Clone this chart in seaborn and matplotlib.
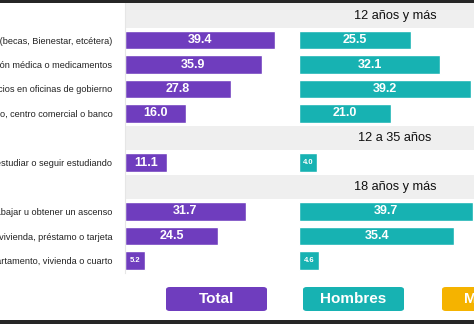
import numpy as np
import pandas as pd
import matplotlib
matplotlib.use("Agg")
import matplotlib.pyplot as plt
from matplotlib.patches import FancyBboxPatch, Rectangle
import seaborn as sns

sns.set_style("white")
plt.rcParams["font.family"] = ["Liberation Sans", "DejaVu Sans"]

# Derechos negados (porcentaje) por grupo de edad
grupos = ["12 años y más", "12 a 35 años", "18 años y más"]
categorias = [
    "Recibir apoyos de programas sociales (becas, Bienestar, etcétera)",
    "Atención médica o medicamentos",
    "Servicios en oficinas de gobierno",
    "La entrada o permanencia en algún negocio, centro comercial o banco",
    "La posibilidad de estudiar o seguir estudiando",
    "La oportunidad de trabajar u obtener un ascenso",
    "Algún crédito de vivienda, préstamo o tarjeta",
    "Rentar o comprar un departamento, vivienda o cuarto",
]
grupo_de = [0, 0, 0, 0, 1, 2, 2, 2]
total = [39.4, 35.9, 27.8, 16.0, 11.1, 31.7, 24.5, 5.2]
hombres = [25.5, 32.1, 39.2, 21.0, 4.0, 39.7, 35.4, 4.6]
leyenda = ["Total", "Hombres", "Mujeres"]

MORADO = "#6F3DBE"
TURQUESA = "#17B2B2"
NARANJA = "#F5B300"
GRIS = "#EFEFEF"

df = pd.DataFrame({"categoria": categorias, "Total": total, "Hombres": hombres})

# Row order: each age group gets a header row followed by its items
orden = []
encabezados = []
for g, nombre in enumerate(grupos):
    encabezados.append(len(orden))
    orden.append(nombre)
    orden += [c for c, gg in zip(categorias, grupo_de) if gg == g]

W, H = 474, 324
fig = plt.figure(figsize=(W / 100, H / 100), dpi=100)
fig.patch.set_facecolor("white")

top_px, bot_px = 3.25, 272.75
ax_bottom = 1 - bot_px / H
ax_height = (bot_px - top_px) / H
ax_t = fig.add_axes([125 / W, ax_bottom, 174 / W, ax_height])
ax_h = fig.add_axes([299 / W, ax_bottom, 175 / W, ax_height])

paneles = [(ax_t, "Total", MORADO, 45.7), (ax_h, "Hombres", TURQUESA, 39.86)]
for ax, col, color, xmax in paneles:
    sns.barplot(data=df, y="categoria", x=col, order=orden, color=color,
                saturation=1, width=0.74, orient="h", ax=ax, zorder=2)
    ax.set_xlim(0, xmax)
    ax.set_ylim(len(orden) - 0.5, -0.5)
    for i in encabezados:
        ax.axhspan(i - 0.5, i + 0.5, color=GRIS, lw=0, zorder=0)
    for s in ax.spines.values():
        s.set_visible(False)
    ax.set_xlabel("")
    ax.set_ylabel("")
    ax.set_xticks([])
    for cont in ax.containers:
        etiquetas = ax.bar_label(cont, fmt="%.1f", label_type="center",
                                 color="white", fontweight="bold", fontsize=9)
        for t, v in zip(etiquetas, cont.datavalues):
            if v < 6:
                t.set_fontsize(5.5)

ax_t.set_yticks(range(len(orden)))
ax_t.set_yticklabels(["" if i in encabezados else c for i, c in enumerate(orden)],
                     fontsize=6.6, color="#222222")
ax_t.tick_params(axis="y", which="major", length=0, pad=9)
ax_t.set_yticks(np.arange(len(orden) + 1) - 0.5, minor=True)
ax_t.tick_params(axis="y", which="minor", length=3, color="#E4E0CC", width=0.8)
ax_t.spines["left"].set_visible(True)
ax_t.spines["left"].set_color("#E6E6E6")
ax_t.spines["left"].set_linewidth(0.8)
ax_h.set_yticks([])

# Group titles on the header rows
for i, nombre in zip(encabezados, grupos):
    y = ax_h.transData.transform((0, i))[1]
    fig.text(395 / W, y / fig.dpi / fig.get_figheight(), nombre, ha="center",
             va="center", fontsize=9.2, color="#111111")

# Dark frame bands
fig.add_artist(Rectangle((0, 1 - 3 / H), 1, 3 / H, transform=fig.transFigure,
                         color="#262626", lw=0))
fig.add_artist(Rectangle((0, 0), 1, 4 / H, transform=fig.transFigure,
                         color="#262626", lw=0))

# Legend buttons
for nombre, color, x0 in zip(leyenda, [MORADO, TURQUESA, NARANJA], [166, 303, 442]):
    caja = FancyBboxPatch((x0 / W, 1 - 311 / H), 101 / W, 24 / H,
                          boxstyle="round,pad=0,rounding_size=0.008",
                          transform=fig.transFigure, fc=color, ec="none")
    fig.add_artist(caja)
    fig.text((x0 + 50.5) / W, 1 - 299 / H, nombre, ha="center", va="center",
             fontsize=11, fontweight="bold", color="white")

fig.savefig("out.png", dpi=100)
